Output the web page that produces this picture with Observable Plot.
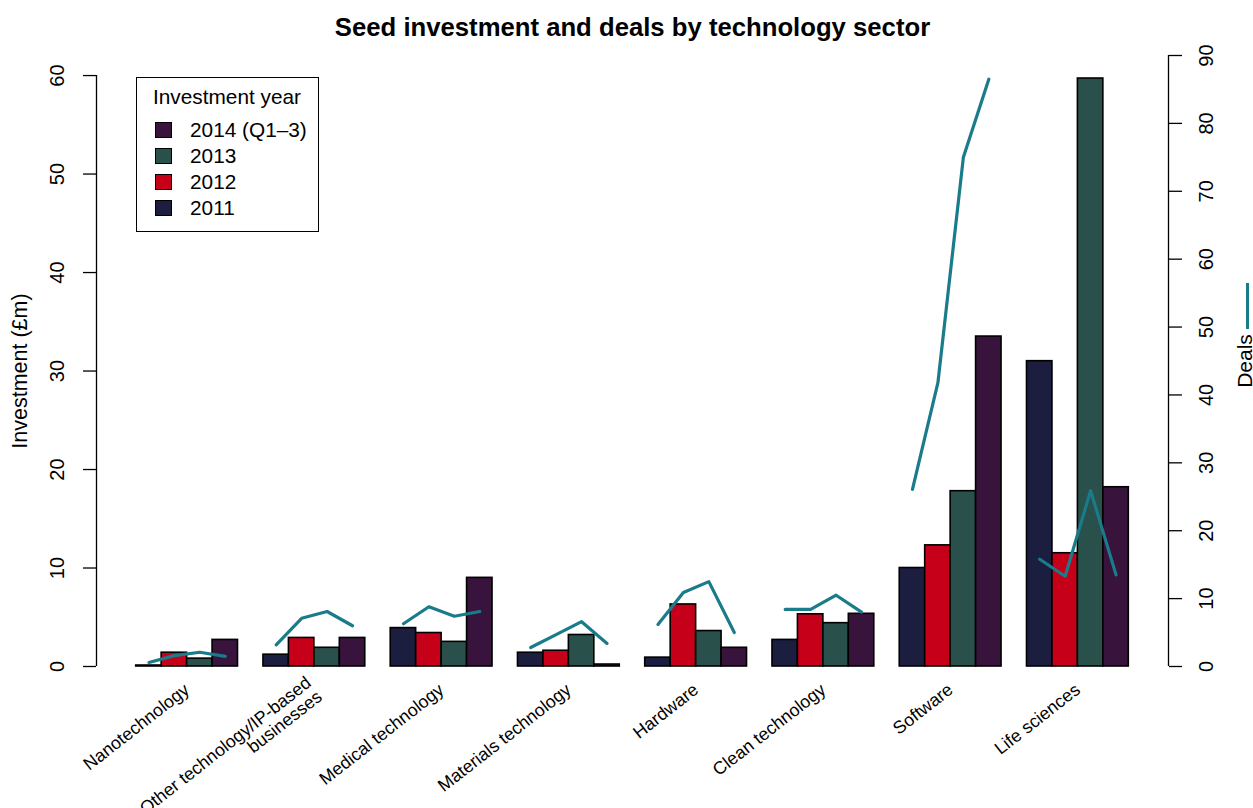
<!DOCTYPE html>
<html>
<head>
<meta charset="utf-8">
<script src="https://cdn.jsdelivr.net/npm/d3@7"></script>
<script src="https://cdn.jsdelivr.net/npm/@observablehq/plot@0.6"></script>
<style>
  html, body { margin: 0; padding: 0; background: #fff; }
  body { width: 1253px; height: 808px; position: relative; overflow: hidden; font-family: "Liberation Sans", Arial, sans-serif; }
  #title { height: 50px; line-height: 54px; text-align: center; font-weight: bold; font-size: 25.7px; color: #000; padding-left: 12px; }
  #legend { position: absolute; left: 136px; top: 77px; width: 181px; height: 153px; border: 1.5px solid #000; background: #fff; font-size: 20.8px; }
  #legend .ttl { position: absolute; left: 16px; top: 7px; }
  #legend .row { position: absolute; left: 18px; height: 24px; line-height: 24px; white-space: nowrap; }
  #legend .sw { display: inline-block; width: 15px; height: 14px; border: 1.2px solid #000; vertical-align: -1px; margin-right: 18px; }
  #dealsKey { position: absolute; left: 1246px; top: 283px; width: 3px; height: 46px; background: #1a7b8a; }
</style>
</head>
<body>
<div id="title">Seed investment and deals by technology sector</div>
<div id="chart"></div>
<div id="legend"></div>
<div id="dealsKey"></div>
<script>
// ---- data ----
const sectors = ["Nanotechnology", "Other technology/IP-based\nbusinesses", "Medical technology", "Materials technology", "Hardware", "Clean technology", "Software", "Life sciences"];
const years = ["2011", "2012", "2013", "2014 (Q1\u20133)"];
const yearColors = ["#1c1e3f", "#c70019", "#29504a", "#38133b"];
// investment (£m) per sector, years 2011..2014
const inv2011 = [0.1, 1.2, 3.9, 1.4, 0.9, 2.7, 10.0, 31.0];
const inv2012 = [1.4, 2.9, 3.4, 1.6, 6.3, 5.3, 12.3, 11.5];
const inv2013 = [0.8, 1.9, 2.5, 3.2, 3.6, 4.4, 17.8, 59.7];
const inv2014 = [2.7, 2.9, 9.0, 0.2, 1.9, 5.35, 33.5, 18.2];
// deals per sector, years 2011..2014
const deals2011 = [0.6, 3.2, 6.3, 2.8, 6.2, 8.4, 26.1, 15.8];
const deals2012 = [1.6, 7.1, 8.8, 4.7, 10.9, 8.4, 41.8, 13.3];
const deals2013 = [2.1, 8.1, 7.4, 6.6, 12.5, 10.5, 75.0, 25.9];
const deals2014 = [1.5, 6.0, 8.1, 3.4, 5.0, 8.0, 86.5, 13.5];
const leftTicks = [0, 10, 20, 30, 40, 50, 60];
const rightTicks = [0, 10, 20, 30, 40, 50, 60, 70, 80, 90];

// ---- derived table ----
const invByYear = [inv2011, inv2012, inv2013, inv2014];
const dealsByYear = [deals2011, deals2012, deals2013, deals2014];
const nY = years.length;
const group = nY + 1; // bars + one gap (R barplot beside=TRUE)
const rows = [];
sectors.forEach((s, i) => {
  years.forEach((y, j) => {
    const x1 = 1 + i * group + j;
    rows.push({sector: s, year: y, x1, x2: x1 + 1, xc: x1 + 0.5, inv: invByYear[j][i], deals: dealsByYear[j][i]});
  });
});
const centers = sectors.map((s, i) => ({sector: s, xc: 1 + i * group + nY / 2}));
const lo = 1, hi = sectors.length * group;
const pad = 0.04 * (hi - lo);
const xDomain = [lo - pad, hi + pad];
const leftMax = d3.max(leftTicks), rightMax = d3.max(rightTicks);
// deals to investment-unit factor (secondary axis)
const k = 0.6893;
const yDomain = [0, rightMax * k];

const teal = "#1a7b8a";
const font = "Liberation Sans, Arial, sans-serif";

const chart = Plot.plot({
  width: 1253,
  height: 758,
  marginLeft: 96,
  marginRight: 85,
  marginTop: 5,
  marginBottom: 142,
  style: {fontFamily: font, fontSize: "20px", color: "#000", background: "#fff", overflow: "visible"},
  x: {domain: xDomain, axis: null},
  y: {domain: yDomain, axis: null},
  color: {domain: years, range: yearColors},
  marks: [
    Plot.rectY(rows, {x1: "x1", x2: "x2", y: "inv", fill: "year", stroke: "#000", strokeWidth: 1.6}),
    Plot.line(rows, {x: "xc", y: d => d.deals * k, z: "sector", stroke: teal, strokeWidth: 3.2}),
    // left axis
    Plot.ruleX([xDomain[0]], {y1: 0, y2: leftMax, stroke: "#000", strokeWidth: 1.3}),
    Plot.axisY({anchor: "left", ticks: leftTicks, tickSize: 13, tickFormat: () => "", label: null, strokeWidth: 1.3}),
    Plot.text(leftTicks, {x: xDomain[0], y: d => d, text: d => String(d), rotate: -90, dx: -39, textAnchor: "middle", lineAnchor: "middle", fontSize: 20}),
    Plot.text(["Investment (\u00a3m)"], {x: xDomain[0], y: leftMax / 2, dx: -76, rotate: -90, textAnchor: "middle", lineAnchor: "middle", fontSize: 21.5}),
    // right axis
    Plot.ruleX([xDomain[1]], {y1: 0, y2: rightMax * k, stroke: "#000", strokeWidth: 1.3}),
    Plot.axisY({anchor: "right", ticks: rightTicks.map(d => d * k), tickFormat: () => "", tickSize: 13, label: null, strokeWidth: 1.3}),
    Plot.text(rightTicks, {x: xDomain[1], y: d => d * k, text: d => String(d), rotate: -90, dx: 38, textAnchor: "middle", lineAnchor: "middle", fontSize: 20}),
    Plot.text(["Deals"], {frameAnchor: "right", dx: 77, dy: 0, rotate: -90, textAnchor: "middle", lineAnchor: "middle", fontSize: 21}),
    // sector labels
    Plot.text(centers, {x: "xc", y: 0, text: "sector", rotate: -38, textAnchor: "end", lineAnchor: "middle", dy: 21, dx: 0, fontSize: 17.8})
  ]
});
document.getElementById("chart").appendChild(chart);

// legend (reverse order as in reference)
const leg = document.getElementById("legend");
const t = document.createElement("div");
t.className = "ttl"; t.textContent = "Investment year"; leg.appendChild(t);
years.slice().reverse().forEach((y, i) => {
  const r = document.createElement("div");
  r.className = "row";
  r.style.top = (40 + i * 26) + "px";
  const sw = document.createElement("span");
  sw.className = "sw";
  sw.style.background = yearColors[years.indexOf(y)];
  r.appendChild(sw);
  r.appendChild(document.createTextNode(y));
  leg.appendChild(r);
});
</script>
</body>
</html>
